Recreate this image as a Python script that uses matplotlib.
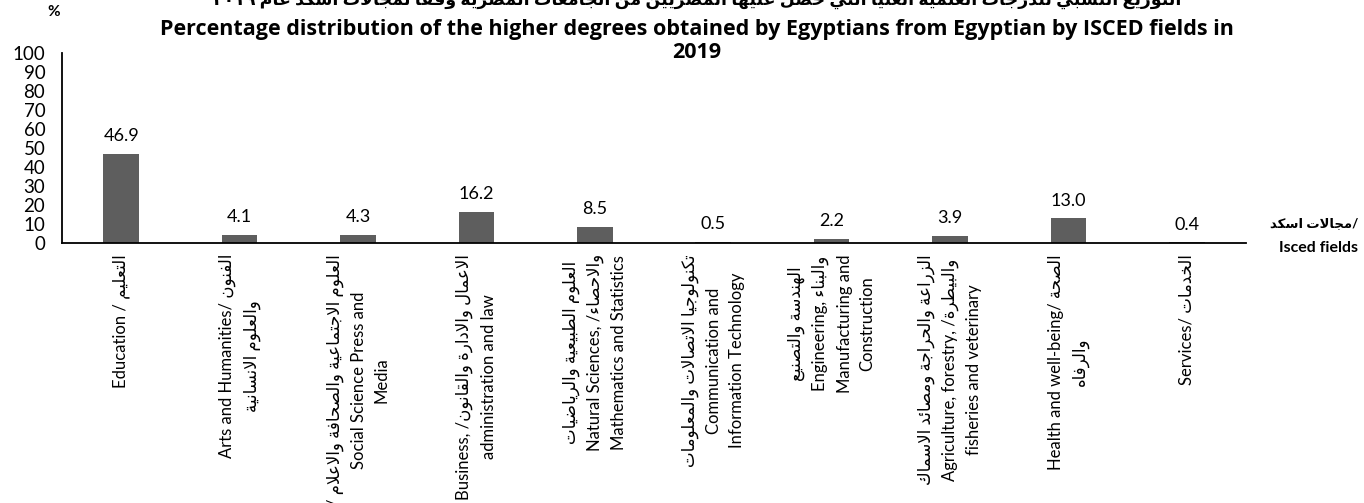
import matplotlib
matplotlib.use("Agg")
import matplotlib.pyplot as plt

# Arabic letters -> first code point in Presentation Forms-B and number of forms
# forms are: isolated, final, initial, medial
AR_FORMS = {
    'ء': (0xFE80, 1), 'آ': (0xFE81, 2), 'أ': (0xFE83, 2), 'ؤ': (0xFE85, 2),
    'إ': (0xFE87, 2), 'ئ': (0xFE89, 4), 'ا': (0xFE8D, 2), 'ب': (0xFE8F, 4),
    'ة': (0xFE93, 2), 'ت': (0xFE95, 4), 'ث': (0xFE99, 4), 'ج': (0xFE9D, 4),
    'ح': (0xFEA1, 4), 'خ': (0xFEA5, 4), 'د': (0xFEA9, 2), 'ذ': (0xFEAB, 2),
    'ر': (0xFEAD, 2), 'ز': (0xFEAF, 2), 'س': (0xFEB1, 4), 'ش': (0xFEB5, 4),
    'ص': (0xFEB9, 4), 'ض': (0xFEBD, 4), 'ط': (0xFEC1, 4), 'ظ': (0xFEC5, 4),
    'ع': (0xFEC9, 4), 'غ': (0xFECD, 4), 'ف': (0xFED1, 4), 'ق': (0xFED5, 4),
    'ك': (0xFED9, 4), 'ل': (0xFEDD, 4), 'م': (0xFEE1, 4), 'ن': (0xFEE5, 4),
    'ه': (0xFEE9, 4), 'و': (0xFEED, 2), 'ى': (0xFEEF, 2), 'ي': (0xFEF1, 4),
}
LAM_ALEF = {'آ': 0xFEF5, 'أ': 0xFEF7, 'إ': 0xFEF9, 'ا': 0xFEFB}


def shape_word(word):
    # join letters, then reverse so the word reads right to left
    letters = []
    i = 0
    while i < len(word):
        c = word[i]
        if c == 'ل' and i + 1 < len(word) and word[i + 1] in LAM_ALEF:
            letters.append((LAM_ALEF[word[i + 1]], 2))
            i += 2
        elif c in AR_FORMS:
            letters.append(AR_FORMS[c])
            i += 1
        else:
            letters.append((ord(c), 0))
            i += 1
    out = []
    for k, (base, n) in enumerate(letters):
        if n == 0:
            out.append(chr(base))
            continue
        prev_joins = k > 0 and letters[k - 1][1] == 4 and n >= 2
        next_joins = n == 4 and k + 1 < len(letters) and letters[k + 1][1] >= 2
        if prev_joins and next_joins:
            form = 3
        elif prev_joins:
            form = 1
        elif next_joins:
            form = 2
        else:
            form = 0
        out.append(chr(base + form))
    return ''.join(reversed(out))


def ar(text):
    words = []
    for w in text.split(' '):
        if any(c in AR_FORMS for c in w):
            words.append(shape_word(w))
        else:
            words.append(w)
    return ' '.join(reversed(words))


# data
values = [46.9, 4.1, 4.3, 16.2, 8.5, 0.5, 2.2, 3.9, 13.0, 0.4]
categories = [
    "Education / " + ar("التعليم"),
    "Arts and Humanities/ " + ar("الفنون") + "\n" + ar("والعلوم الانسانية"),
    "/ " + ar("العلوم الاجتماعية والصحافة والاعلام") + "\nSocial Science Press and\nMedia",
    "Business, /" + ar("الاعمال والادارة والقانون") + "\nadministration and law",
    ar("العلوم الطبيعية والرياضيات") + "\nNatural Sciences, /" + ar("والاحصاء") + "\nMathematics and Statistics",
    ar("تكنولوجيا الاتصالات والمعلومات") + "\nCommunication and\nInformation Technology",
    ar("الهندسة والتصنيع") + "\nEngineering, " + ar("والبناء") + "\nManufacturing and\nConstruction",
    ar("الزراعة والحراجة ومصائد الاسماك") + "\nAgriculture, forestry, /" + ar("والبيطرة") + "\nfisheries and veterinary",
    "Health and well-being/ " + ar("الصحة") + "\n" + ar("والرفاه"),
    "Services/ " + ar("الخدمات"),
]
yticks = list(range(0, 101, 10))

title_ar = ar("التوزيع النسبي للدرجات العلمية العليا التي حصل عليها المصريين من الجامعات المصرية وفقا لمجالات اسكد عام ٢٠١٩")
title_en = "Percentage distribution of the higher degrees obtained by Egyptians from Egyptian by ISCED fields in"
title_year = "2019"

plt.rcParams['font.family'] = ['Lato', 'DejaVu Sans']

fig = plt.figure(figsize=(13.64, 5.03), dpi=100)
ax = fig.add_axes([62 / 1364, 1 - 243 / 503, 1184 / 1364, 190 / 503])

x = list(range(len(values)))
bars = ax.bar(x, values, width=0.3, color='#5e5e5e')
ax.bar_label(bars, labels=[f"{v:.1f}" for v in values], padding=7, fontsize=13)

ax.set_xlim(-0.5, len(values) - 0.5)
ax.set_ylim(0, 100)
ax.set_yticks(yticks)
ax.set_xticks(x)
ax.set_xticklabels(categories, rotation=90, ha='center', va='top',
                   multialignment='center', fontsize=12, linespacing=1.55)
ax.tick_params(axis='y', length=0, pad=12, labelsize=13.5)
ax.tick_params(axis='x', length=0, pad=8)
for s in ['top', 'right']:
    ax.spines[s].set_visible(False)
ax.spines['left'].set_linewidth(1.3)
ax.spines['bottom'].set_linewidth(1.3)

# titles (the arabic line is cut by the top edge, as in the source)
title_x = 697 / 1364
fig.text(title_x, 1 - 5 / 503, title_ar, ha='center', va='baseline',
         fontsize=12.5, fontweight='bold')
fig.text(title_x, 1 - 29 / 503, title_en, ha='center', va='center',
         fontsize=15.5, fontweight='bold', family=['Open Sans', 'DejaVu Sans'])
fig.text(title_x, 1 - 52 / 503, title_year, ha='center', va='center',
         fontsize=15.5, fontweight='bold', family=['Open Sans', 'DejaVu Sans'])
fig.text(54 / 1364, 1 - 12 / 503, "%", ha='center', va='center',
         fontsize=11, fontweight='bold')
fig.text(1358 / 1364, 1 - 223 / 503, ar("مجالات اسكد") + "/", ha='right', va='center',
         fontsize=9.5, fontweight='bold')
fig.text(1358 / 1364, 1 - 248 / 503, "Isced fields", ha='right', va='center',
         fontsize=11.5, fontweight='bold')

plt.savefig("out.png", dpi=100)
